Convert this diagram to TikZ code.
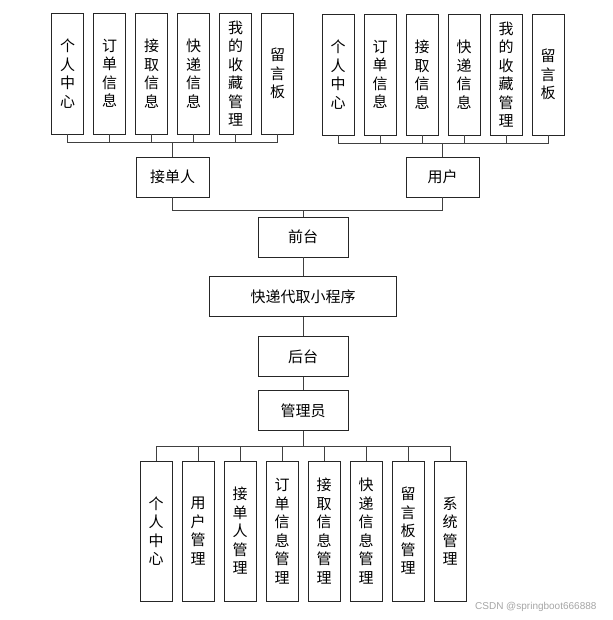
\documentclass[tikz,border=0pt]{standalone}
\usepackage{fontspec}
\setmainfont{Noto Sans CJK SC}
\newfontfamily\markfont{Liberation Sans}
\usetikzlibrary{positioning}
\tikzset{
  every picture/.style={font=\fontsize{15}{18.5}\selectfont},
  box/.style={draw=black!85,line width=0.8pt,fill=white,inner sep=0pt,align=center},
  wide/.style={box,minimum height=40pt},
  tall/.style={box,minimum width=32pt,minimum height=121pt},
  low/.style={box,minimum width=32pt,minimum height=140pt},
  wire/.style={draw=black!75,line width=0.8pt},
}

\begin{document}
\begin{tikzpicture}[x=1pt,y=-1pt]
  \useasboundingbox[fill=white] (0,0) rectangle (612,620);
  % front end: two roles
  \node[wide,minimum width=73pt] (jdr) at (172.5,177) {接单人};
  \node[wide,minimum width=73pt] (yh) at (442.5,177) {用户};
  \foreach \t [count=\i] in {{个\\人\\中\\心},{订\\单\\信\\息},{接\\取\\信\\息},
      {快\\递\\信\\息},{我\\的\\收\\藏\\管\\理},{留\\言\\板}}{
    \node[tall] (a\i) at (25.5+42*\i,73.5) {\t};
    \node[tall] (b\i) at (296+42*\i,74.5) {\t};
    \draw[wire] (a\i.south) -- ++(0,8) -| (jdr.north);
    \draw[wire] (b\i.south) -- ++(0,8) -| (yh.north);
  }
  % main chain
  \node[wide,minimum width=90pt] (qt) at (303,237) {前台};
  \node[wide,minimum width=187pt,below=19pt of qt] (app) {快递代取小程序};
  \node[wide,minimum width=90pt,below=19pt of app] (ht) {后台};
  \node[wide,minimum width=90pt,below=13pt of ht] (gly) {管理员};
  \draw[wire] (jdr.south) -- ++(0,13) -| (qt.north);
  \draw[wire] (yh.south) -- ++(0,13) -| (qt.north);
  \draw[wire] (qt) -- (app);
  \draw[wire] (app) -- (ht);
  \draw[wire] (ht) -- (gly);
  % back end: admin functions
  \foreach \t [count=\i] in {{个\\人\\中\\心},{用\\户\\管\\理},{接\\单\\人\\管\\理},
      {订\\单\\信\\息\\管\\理},{接\\取\\信\\息\\管\\理},{快\\递\\信\\息\\管\\理},
      {留\\言\\板\\管\\理},{系\\统\\管\\理}}{
    \node[low] (m\i) at (114+42*\i,531) {\t};
    \draw[wire] (gly.south) -- ++(0,16) -| (m\i.north);
  }
  \node[anchor=east,text=black!35,font=\markfont\fontsize{10}{12}\selectfont] (mark)
    at (600,607) {CSDN @springboot666888};
\end{tikzpicture}
\end{document}
